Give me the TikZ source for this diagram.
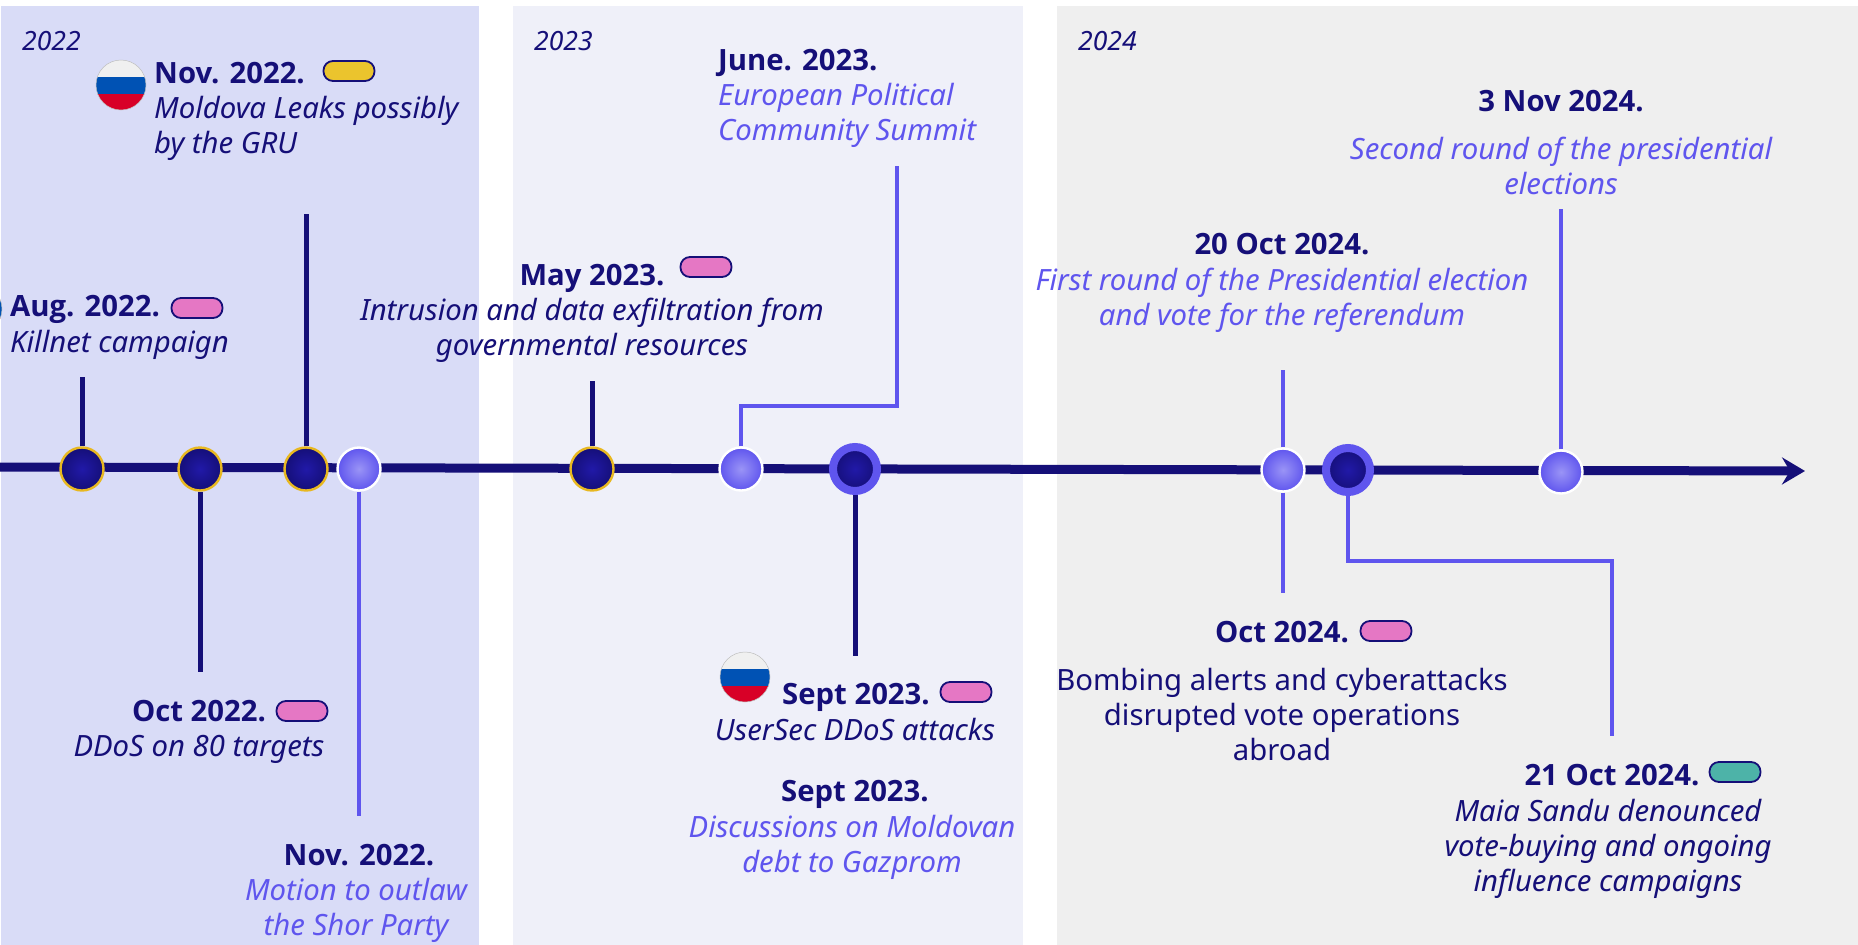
\documentclass[tikz,border=0pt]{standalone}
\usepackage{fontspec}
\setmainfont{Noto Sans}
\newfontfamily\headfont{Open Sans}
\usetikzlibrary{positioning, arrows.meta}
\definecolor{navy}{HTML}{150F78}
\definecolor{navyglow}{HTML}{2119A8}
\definecolor{violet}{HTML}{5F55EE}
\definecolor{violetglow}{HTML}{9A94F6}
\definecolor{gold}{HTML}{E8B820}
\definecolor{pinktag}{HTML}{E577C4}
\definecolor{yellowtag}{HTML}{EBC42D}
\definecolor{tealtag}{HTML}{4DB3A8}
\definecolor{panelA}{HTML}{D9DCF7}
\definecolor{panelB}{HTML}{EFF0F9}
\definecolor{panelC}{HTML}{EFEFEF}
\definecolor{flagblue}{HTML}{0052B4}
\definecolor{flagred}{HTML}{D80027}
\definecolor{flagwhite}{HTML}{F0F0F0}
\tikzset{
  title/.style={inner sep=0pt, anchor=base, text=navy, text depth=8pt,
    font=\fontsize{29.3}{35}\selectfont\headfont\bfseries},
  leftitle/.style={title, anchor=base west},
  desc/.style={inner sep=0pt, align=center, text=navy, execute at begin node=\strut,
    font=\fontsize{29.3}{35}\selectfont\itshape},
  plain/.style={desc, font=\fontsize{29.3}{35}\selectfont},
  light/.style={desc, text=violet},
  year/.style={inner sep=0pt, anchor=base west, text=navy,
    font=\fontsize{26.5}{30}\selectfont\itshape},
  eventdark/.style={circle, inner sep=0pt, minimum size=43pt, draw=gold, line width=2.4pt,
    inner color=navyglow, outer color=navy, shade},
  eventlight/.style={circle, inner sep=0pt, minimum size=43pt, draw=white, line width=2.4pt,
    inner color=violetglow, outer color=violet, shade},
  eventbig/.style={circle, inner sep=0pt, minimum size=44pt, draw=violet, line width=8pt,
    inner color=navyglow, outer color=navy, shade},
  stemdark/.style={draw=navy, line width=5pt},
  stemlight/.style={draw=violet, line width=4.5pt},
  pill/.style={rectangle, inner sep=0pt, minimum width=51pt, minimum height=20pt,
    rounded corners=9.5pt, draw=navy, line width=1.8pt},
  pillpink/.style={pill, fill=pinktag},
  pillyellow/.style={pill, fill=yellowtag},
  pillteal/.style={pill, fill=tealtag},
  flag/.style={circle, inner sep=0pt, minimum size=50pt, draw=black!25, line width=.5pt, fill=flagwhite,
    path picture={
      \fill[flagblue] (-30,-8.5) rectangle (30,8.5);
      \fill[flagred] (-30,8.5) rectangle (30,30);
    }},
}
\begin{document}
\begin{tikzpicture}[x=1pt,y=-1pt,node distance=5.5pt]
  \useasboundingbox (0,0) rectangle (1858,945);
  % Panels
  \fill[panelA] (1,6) rectangle (479,945);
  \fill[panelB] (513,6) rectangle (1023,945);
  \fill[panelC] (1057,6) rectangle (1858,945);
  \node[year] (y22) at (22,50) {2022};
  \node[year] (y23) at (534,50) {2023};
  \node[year] (y24) at (1078,50) {2024};
  % Axis
  \coordinate (axstart) at (-4,467);
  \coordinate (axend) at (1805,471);
  \draw[navy, line width=9pt, -{Stealth[length=23pt,width=27pt,inset=8pt]}] (axstart) -- (axend);
  % Events
  \node[eventdark] (aug22) at (82,469) {};
  \node[eventdark] (oct22) at (200,469) {};
  \node[eventdark] (nov22) at (306,469) {};
  \node[eventlight] (shor) at (359,469) {};
  \node[eventdark] (may23) at (592,469) {};
  \node[eventlight] (jun23) at (741,469) {};
  \node[eventbig] (sep23) at (855,469) {};
  \node[eventlight] (oct20) at (1283,470) {};
  \node[eventbig] (oct21) at (1348,470) {};
  \node[eventlight] (nov3) at (1561,472) {};
  % Stem ends
  \coordinate (aug22end) at (82,377);
  \coordinate (oct22end) at (200,672);
  \coordinate (nov22end) at (306,214);
  \coordinate (shorend) at (359,816);
  \coordinate (may23end) at (592,381);
  \coordinate (jun23end) at (897,166);
  \coordinate (sep23end) at (855,656);
  \coordinate (oct20up) at (1283,370);
  \coordinate (oct20down) at (1283,593);
  \coordinate (oct21end) at (1612,736);
  \coordinate (nov3end) at (1561,209);
  % Stems
  \draw[stemdark] (aug22) -- (aug22end);
  \draw[stemdark] (oct22) -- (oct22end);
  \draw[stemdark] (nov22) -- (nov22end);
  \draw[stemlight] (shor) -- (shorend);
  \draw[stemdark] (may23) -- (may23end);
  \draw[stemlight] (jun23) -- (741,406) -| (jun23end);
  \draw[stemdark] (sep23) -- (sep23end);
  \draw[stemlight] (oct20) -- (oct20up);
  \draw[stemlight] (oct20) -- (oct20down);
  \draw[stemlight] (oct21) -- (1348,561) -| (oct21end);
  \draw[stemlight] (nov3) -- (nov3end);
  % 2022
  \node[flag] (flagaug) at (-23,309) {};
  \node[leftitle] (taug) at (10,316) {Aug. 2022.};
  \node[pillpink] (paug) at (197,308) {};
  \node[desc, below right=3.5pt and 0pt of taug.south west] (daug) {Killnet campaign};
  \node[flag] (flagnov) at (121,85) {};
  \node[leftitle] (tnov) at (154,83) {Nov. 2022.};
  \node[pillyellow] (pnov) at (349,71) {};
  \node[desc, align=left, below right=5pt and 0pt of tnov.south west] (dnov) {Moldova Leaks possibly\\by the GRU};
  \node[title] (toct) at (199,721) {Oct 2022.};
  \node[pillpink] (poct) at (302,711) {};
  \node[desc, below=3pt of toct] (doct) {DDoS on 80 targets};
  \node[title] (tshor) at (359,865) {Nov. 2022.};
  \node[light, below=5pt of tshor, xshift=-3pt] (dshor) {Motion to outlaw\\the Shor Party};
  % 2023
  \node[title] (tmay) at (592,285) {May 2023.};
  \node[pillpink] (pmay) at (706,267) {};
  \node[desc, below=5pt of tmay] (dmay) {Intrusion and data exfiltration from\\governmental resources};
  \node[leftitle] (tjun) at (718,70) {June. 2023.};
  \node[light, align=left, below right=5pt and 0pt of tjun.south west] (djun) {European Political\\Community Summit};
  \node[flag] (flagsep) at (745,677) {};
  \node[leftitle] (tsep) at (782,704) {Sept 2023.};
  \node[pillpink] (psep) at (966,692) {};
  \node[desc, below=4pt of tsep.south west, xshift=73pt] (dsep) {UserSec DDoS attacks};
  \node[title] (tgaz) at (855,801) {Sept 2023.};
  \node[light, below=of tgaz, xshift=-3pt] (dgaz) {Discussions on Moldovan\\debt to Gazprom};
  % 2024
  \node[title] (tfirst) at (1282,254) {20 Oct 2024.};
  \node[light, below=of tfirst] (dfirst) {First round of the Presidential election\\and vote for the referendum};
  \node[title] (tsecond) at (1561,111) {3 Nov 2024.};
  \node[light, below=18pt of tsecond] (dsecond) {Second round of the presidential\\elections};
  \node[title] (tbomb) at (1282,642) {Oct 2024.};
  \node[pillpink] (pbomb) at (1386,631) {};
  \node[plain, below=18pt of tbomb] (dbomb) {Bombing alerts and cyberattacks\\disrupted vote operations\\abroad};
  \node[title] (tsandu) at (1612,785) {21 Oct 2024.};
  \node[pillteal] (psandu) at (1735,772) {};
  \node[desc, below=of tsandu, xshift=-4pt] (dsandu) {Maia Sandu denounced\\vote-buying and ongoing\\influence campaigns};
\end{tikzpicture}
\end{document}
